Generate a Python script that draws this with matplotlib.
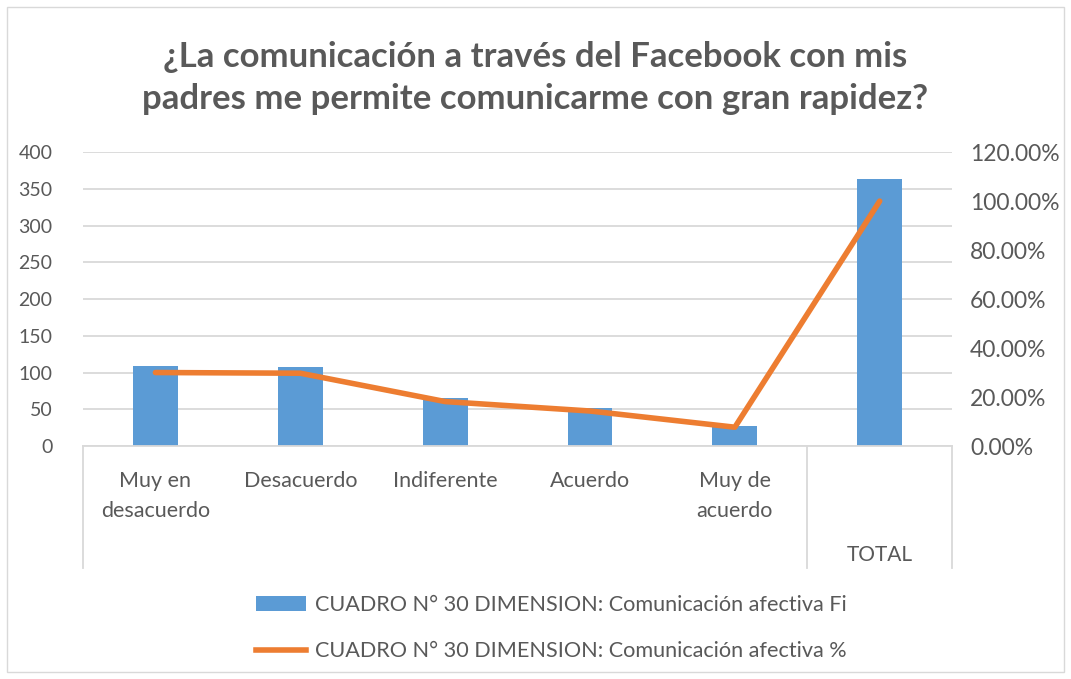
import numpy as np
import matplotlib.pyplot as plt
from matplotlib.lines import Line2D
from matplotlib.patches import Patch, Rectangle
from matplotlib.ticker import FuncFormatter

plt.rcParams['font.family'] = ['Lato', 'DejaVu Sans']

categories = ['Muy en\ndesacuerdo', 'Desacuerdo', 'Indiferente', 'Acuerdo', 'Muy de\nacuerdo', 'TOTAL']
fi = [109, 108, 66, 52, 28, 363]
pct = [30.03, 29.75, 18.18, 14.33, 7.71, 100.0]

title = '¿La comunicación a través del Facebook con mis\npadres me permite comunicarme con gran rapidez?'
label_fi = 'CUADRO N° 30 DIMENSION: Comunicación afectiva Fi'
label_pct = 'CUADRO N° 30 DIMENSION: Comunicación afectiva %'

gray = '#595959'
grid = '#d9d9d9'
blue = '#5b9bd5'
orange = '#ed7d31'

fig = plt.figure(figsize=(10.71, 6.79), dpi=100)
ax = fig.add_axes([0.0775, 0.343, 0.8115, 0.433])
ax2 = ax.twinx()

x = np.arange(len(categories))
ax.bar(x, fi, 0.31, color=blue, zorder=2)
ax2.plot(x, pct, color=orange, lw=4, solid_capstyle='round', zorder=3)

ax.set_xlim(-0.5, 5.5)
ax.set_ylim(0, 400)
ax.set_yticks(range(0, 401, 50))
ax2.set_ylim(0, 120)
ax2.set_yticks(range(0, 121, 20))
ax2.yaxis.set_major_formatter(FuncFormatter(lambda v, p: '%.2f%%' % v))

ax.yaxis.grid(True, color=grid, lw=1.3)
ax.set_axisbelow(True)
for a in (ax, ax2):
    for s in a.spines.values():
        s.set_visible(False)
    a.tick_params(length=0, colors=gray, labelsize=14)
ax.tick_params(axis='y', pad=22)
ax2.tick_params(axis='y', pad=13, labelsize=16.5)
ax.spines['bottom'].set_visible(True)
ax.spines['bottom'].set_color(grid)
ax.spines['bottom'].set_linewidth(1.3)

# multi-level category axis
ax.set_xticks(x[:5])
ax.set_xticklabels(categories[:5], linespacing=1.6, va='top')
ax.tick_params(axis='x', pad=18, labelsize=15.5)
tr = ax.get_xaxis_transform()
ax.text(x[5], -0.37, categories[5], transform=tr, ha='center', va='center',
        color=gray, fontsize=15)
for xv in (-0.5, 4.5, 5.5):
    ax.add_line(Line2D([xv, xv], [0, -0.415], transform=tr, color=grid, lw=1.3,
                       clip_on=False))

fig.suptitle(title, x=0.5, y=0.94, fontsize=25, fontweight='bold', color=gray,
             linespacing=1.4)

handles = [Patch(facecolor=blue), Line2D([], [], color=orange, lw=4)]
leg = fig.legend(handles, [label_fi, label_pct], loc='upper center',
                 bbox_to_anchor=(0.515, 0.152), frameon=False, fontsize=15.6,
                 labelcolor=gray, handlelength=2.3, handletextpad=0.4,
                 labelspacing=1.2)

fig.patches.append(Rectangle((0.007, 0.01), 0.986, 0.98, transform=fig.transFigure,
                             fill=False, edgecolor=grid, lw=1))

fig.savefig('out.png', dpi=100)
